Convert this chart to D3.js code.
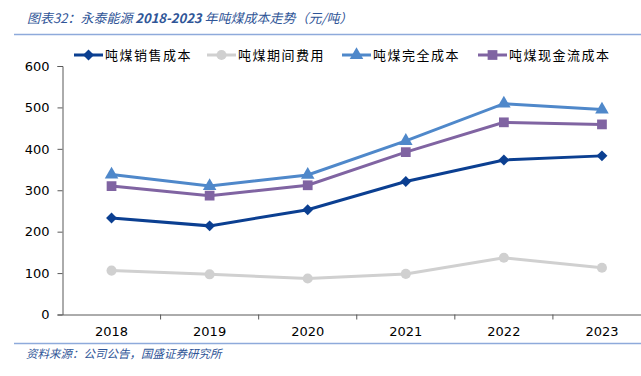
<!DOCTYPE html>
<html>
<head>
<meta charset="utf-8">
<script src="https://cdn.jsdelivr.net/npm/d3@7"></script>
<style>
  body { margin: 0; background: #fff; }
  svg { display: block; }
</style>
</head>
<body>
<div id="chart"></div>
<script>
var years = ["2018", "2019", "2020", "2021", "2022", "2023"];
var yTicks = [0, 100, 200, 300, 400, 500, 600];
var salesCost = [233, 214, 253, 321, 373, 383];
var periodFee = [106, 97, 87, 98, 137, 113];
var fullCost = [338, 310, 337, 419, 509, 495];
var cashCost = [310, 287, 312, 392, 464, 459];

var seriesNames = ["吨煤销售成本", "吨煤期间费用", "吨煤完全成本", "吨煤现金流成本"];
var seriesData = [salesCost, periodFee, fullCost, cashCost];
var colors = ["#0B3F91", "#D0D0D0", "#4F88CA", "#8064A2"];
// diamond is a square turned 45 degrees
var shapes = [d3.symbolSquare, d3.symbolCircle, d3.symbolTriangle, d3.symbolSquare];
var rotations = [45, 0, 0, 0];
var sizes = [60, 80, 80, 95];

var width = 641, height = 376;
var font = "'Noto Sans CJK SC', 'DejaVu Sans', sans-serif";

var svg = d3.select("#chart").append("svg")
    .attr("width", width)
    .attr("height", height);

// title and frame lines
svg.append("text")
    .attr("x", 27).attr("y", 23)
    .style("font-family", font)
    .style("font-style", "italic")
    .style("font-size", "13px")
    .style("fill", "#2F5597")
    .html("图表32：永泰能源 <tspan font-weight='bold'>2018-2023</tspan> 年吨煤成本走势（元/吨）");

svg.append("line")
    .attr("x1", 14).attr("x2", width)
    .attr("y1", 34.5).attr("y2", 34.5)
    .style("stroke", "#8EAADB").style("stroke-width", 1.5);

svg.append("line")
    .attr("x1", 14).attr("x2", width)
    .attr("y1", 343.5).attr("y2", 343.5)
    .style("stroke", "#8EAADB").style("stroke-width", 1.5);

svg.append("text")
    .attr("x", 26).attr("y", 358)
    .style("font-family", font)
    .style("font-style", "italic")
    .style("font-size", "11.5px")
    .style("fill", "#2F5597")
    .text("资料来源：公司公告，国盛证券研究所");

var x = d3.scaleBand()
    .domain(years)
    .range([62.5, 651]);

var y = d3.scaleLinear()
    .domain([0, 600])
    .range([314.5, 66]);

var axisColor = "#595959";

// y axis
var yAxis = svg.append("g")
    .attr("transform", "translate(62.5,0)")
    .call(d3.axisLeft(y).tickValues(yTicks).tickSize(5).tickPadding(8));
yAxis.select(".domain").style("stroke", axisColor);
yAxis.selectAll(".tick line").style("stroke", axisColor);
yAxis.selectAll("text")
    .style("font-family", "'DejaVu Sans', sans-serif")
    .style("font-size", "13px")
    .style("fill", "#000");

// x axis
var xAxis = svg.append("g")
    .attr("transform", "translate(0,314.5)")
    .call(d3.axisBottom(x).tickSize(0).tickPadding(12));
xAxis.select(".domain").style("stroke", axisColor);
xAxis.selectAll("text")
    .style("font-family", "'DejaVu Sans', sans-serif")
    .style("font-size", "13px")
    .style("fill", "#000");

// tick marks between categories
xAxis.selectAll(".sep")
    .data(years.slice(1))
    .enter().append("line")
    .attr("class", "sep")
    .attr("x1", function(d) { return x(d); })
    .attr("x2", function(d) { return x(d); })
    .attr("y1", 0).attr("y2", 5)
    .style("stroke", axisColor);

function cx(i) { return x(years[i]) + x.bandwidth() / 2; }

var line = d3.line()
    .x(function(d, i) { return cx(i); })
    .y(function(d) { return y(d); });

// gray first so it sits below
var order = [1, 3, 2, 0];
order.forEach(function(s) {
  svg.append("path")
      .datum(seriesData[s])
      .attr("d", line)
      .style("fill", "none")
      .style("stroke", colors[s])
      .style("stroke-width", 3);

  svg.selectAll(".m" + s)
      .data(seriesData[s])
    .enter().append("path")
      .attr("class", "m" + s)
      .attr("transform", function(d, i) {
        return "translate(" + cx(i) + "," + y(d) + ") rotate(" + rotations[s] + ")";
      })
      .attr("d", d3.symbol().type(shapes[s]).size(sizes[s]))
      .style("fill", colors[s]);
});

// legend
var legendX = [74, 207, 342, 478];
var legend = svg.selectAll(".legend")
    .data(seriesNames)
  .enter().append("g")
    .attr("class", "legend")
    .attr("transform", function(d, i) { return "translate(" + legendX[i] + ",55)"; });

legend.append("line")
    .attr("x1", 0).attr("x2", 29)
    .style("stroke", function(d, i) { return colors[i]; })
    .style("stroke-width", 3);

legend.append("path")
    .attr("transform", function(d, i) { return "translate(14.5,0) rotate(" + rotations[i] + ")"; })
    .attr("d", function(d, i) { return d3.symbol().type(shapes[i]).size(sizes[i])(); })
    .style("fill", function(d, i) { return colors[i]; });

legend.append("text")
    .attr("x", 31).attr("y", 5)
    .style("font-family", font)
    .style("font-size", "13px")
    .style("letter-spacing", "1.5px")
    .style("fill", "#000")
    .text(function(d) { return d; });
</script>
</body>
</html>
